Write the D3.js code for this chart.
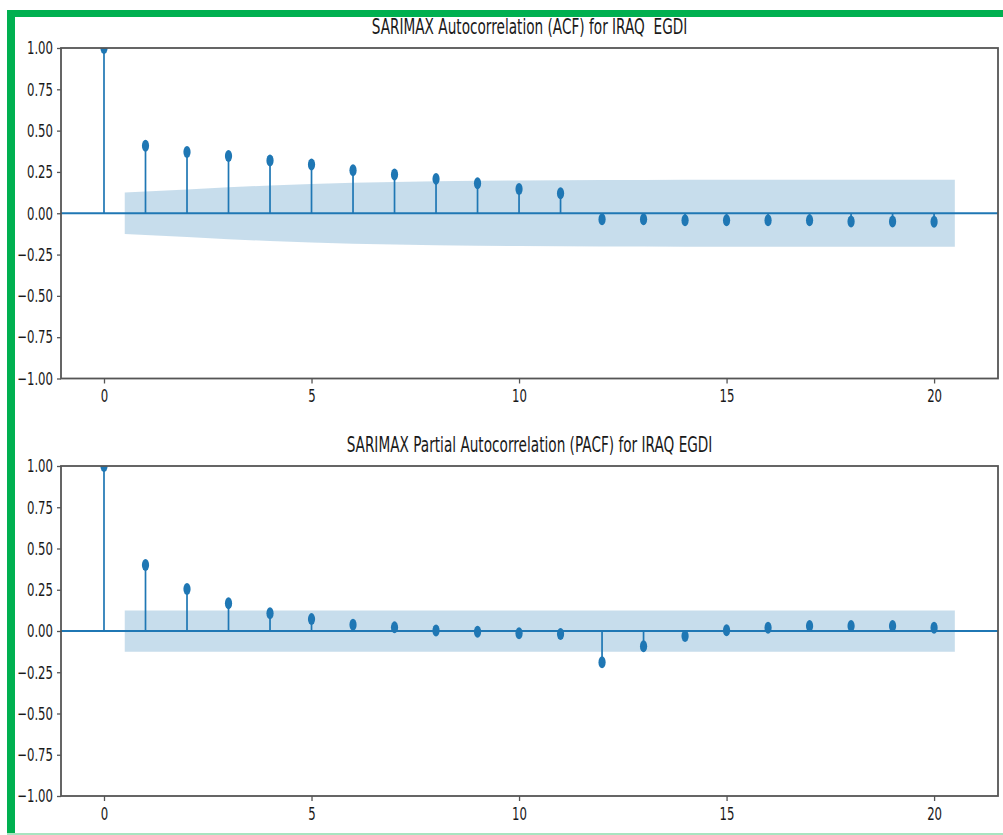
<!DOCTYPE html>
<html>
<head>
<meta charset="utf-8">
<script src="https://cdn.jsdelivr.net/npm/d3@7"></script>
<style>
  body { margin: 0; background: #fff; }
  svg { display: block; font-family: "DejaVu Sans", sans-serif; }
</style>
</head>
<body>
<div id="chart"></div>
<script>
// lags 0..20
var lags = d3.range(0, 21);

// ACF values
var acfValues = [1.0, 0.408, 0.371, 0.347, 0.319, 0.295, 0.26, 0.234, 0.208, 0.182, 0.147, 0.121,
  -0.036, -0.036, -0.042, -0.042, -0.042, -0.042, -0.05, -0.05, -0.052];
// ACF confidence band half-width, lags 1..20
var acfBand = [0.125, 0.143, 0.157, 0.168, 0.177, 0.184, 0.189, 0.193, 0.196, 0.198, 0.200,
  0.201, 0.201, 0.202, 0.202, 0.202, 0.203, 0.203, 0.203, 0.203];

// PACF values
var pacfValues = [1.0, 0.40, 0.255, 0.168, 0.108, 0.072, 0.038, 0.022, 0.003, -0.004, -0.014, -0.018,
  -0.19, -0.092, -0.03, 0.004, 0.02, 0.03, 0.03, 0.03, 0.02];
var pacfBand = [0.125, 0.125, 0.125, 0.125, 0.125, 0.125, 0.125, 0.125, 0.125, 0.125,
  0.125, 0.125, 0.125, 0.125, 0.125, 0.125, 0.125, 0.125, 0.125, 0.125];

var yTicks = [-1, -0.75, -0.5, -0.25, 0, 0.25, 0.5, 0.75, 1];
var xTicks = [0, 5, 10, 15, 20];

var titles = ["SARIMAX Autocorrelation (ACF) for IRAQ  EGDI",
  "SARIMAX Partial Autocorrelation (PACF) for IRAQ EGDI"];

var W = 1003, H = 835;
var blue = "#1f77b4";
var squeeze = 0.65; // text in the screenshot is horizontally compressed

var svg = d3.select("#chart").append("svg")
  .attr("width", W)
  .attr("height", H);

// green frame of the screenshot
svg.append("rect").attr("x", 7).attr("y", 10).attr("width", W - 7).attr("height", 7).style("fill", "#00b050");
svg.append("rect").attr("x", 7).attr("y", 10).attr("width", 8).attr("height", H - 10).style("fill", "#00b050");
svg.append("rect").attr("x", 7).attr("y", 833).attr("width", W - 7).attr("height", 2).style("fill", "#a8e4c0");

var x = d3.scaleLinear().domain([-1.036, 21.54]).range([61, 998]);

function squeezeText(sel) {
  sel.each(function() {
    var t = d3.select(this);
    var tx = +t.attr("x") || 0;
    t.attr("x", 0).attr("transform", "translate(" + tx + ",0) scale(" + squeeze + ",1)");
  });
}

function drawPanel(idx, top, bottom, values, band, title) {
  var y = d3.scaleLinear().domain([-1, 1]).range([bottom, top]);
  var g = svg.append("g");

  var clipId = "clip" + idx;
  svg.append("clipPath").attr("id", clipId)
    .append("rect").attr("x", x.range()[0]).attr("y", top)
    .attr("width", x.range()[1] - x.range()[0]).attr("height", bottom - top);

  var plot = g.append("g").attr("clip-path", "url(#" + clipId + ")");

  // confidence band (first/last lag pushed out by half a lag, like statsmodels)
  var bandPts = band.map(function(w, i) {
    var l = i + 1;
    if (i === 0) l -= 0.5;
    if (i === band.length - 1) l += 0.5;
    return { lag: l, w: w };
  });
  plot.append("path")
    .datum(bandPts)
    .attr("d", d3.area()
      .x(function(d) { return x(d.lag); })
      .y0(function(d) { return y(-d.w); })
      .y1(function(d) { return y(d.w); }))
    .style("fill", blue)
    .style("fill-opacity", 0.25);

  // zero line
  plot.append("line")
    .attr("x1", x.range()[0]).attr("x2", x.range()[1])
    .attr("y1", y(0)).attr("y2", y(0))
    .style("stroke", blue).style("stroke-width", 2);

  // stems
  plot.selectAll(".stem").data(lags).enter().append("line")
    .attr("class", "stem")
    .attr("x1", function(d) { return x(d); }).attr("x2", function(d) { return x(d); })
    .attr("y1", y(0)).attr("y2", function(d) { return y(values[d]); })
    .style("stroke", blue).style("stroke-width", 1.7);

  // markers
  plot.selectAll(".dot").data(lags).enter().append("ellipse")
    .attr("class", "dot")
    .attr("cx", function(d) { return x(d); })
    .attr("cy", function(d) { return y(values[d]); })
    .attr("rx", 3.6).attr("ry", 6)
    .style("fill", blue);

  // axes
  var yAxis = g.append("g")
    .attr("transform", "translate(" + x.range()[0] + ",0)")
    .call(d3.axisLeft(y).tickValues(yTicks).tickFormat(d3.format(".2f")).tickSizeOuter(0).tickSize(4).tickPadding(4));
  var xAxis = g.append("g")
    .attr("transform", "translate(0," + bottom + ")")
    .call(d3.axisBottom(x).tickValues(xTicks).tickSizeOuter(0).tickSize(5).tickPadding(6));

  [yAxis, xAxis].forEach(function(a) {
    a.select(".domain").remove();
    a.selectAll(".tick line").style("stroke", "#555").style("stroke-width", 1.3);
    a.selectAll(".tick text").style("font-size", "18px").style("fill", "#1a1a1a")
      .style("font-family", "DejaVu Sans, sans-serif");
  });
  squeezeText(yAxis.selectAll(".tick text"));
  xAxis.selectAll(".tick text").attr("x", 0).attr("transform", "scale(" + squeeze + ",1)");

  // frame
  g.append("rect")
    .attr("x", x.range()[0]).attr("y", top)
    .attr("width", x.range()[1] - x.range()[0]).attr("height", bottom - top)
    .style("fill", "none").style("stroke", "#555").style("stroke-width", 1.8);

  // title
  g.append("text")
    .attr("transform", "translate(" + ((x.range()[0] + x.range()[1]) / 2) + "," + (top - 14) + ") scale(" + squeeze + ",1)")
    .attr("text-anchor", "middle")
    .style("font-size", "21px")
    .style("white-space", "pre")
    .style("fill", "#1a1a1a")
    .text(title);
}

drawPanel(0, 48, 378.5, acfValues, acfBand, titles[0]);
drawPanel(1, 466, 796, pacfValues, pacfBand, titles[1]);
</script>
</body>
</html>
